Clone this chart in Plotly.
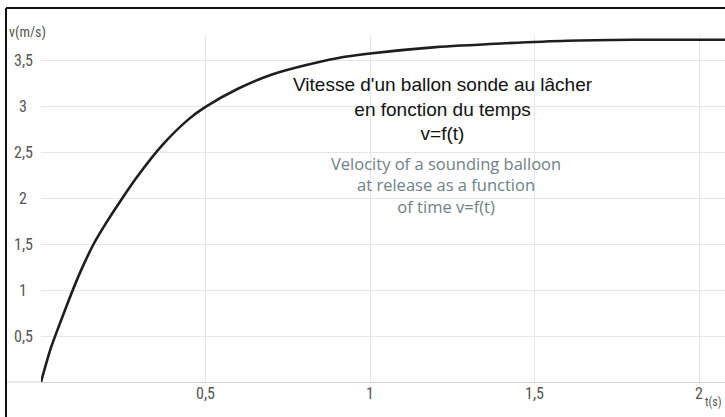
import plotly.graph_objects as go

# Data
t_s = [0, 0.03, 0.06, 0.09, 0.12, 0.16, 0.2, 0.24, 0.29, 0.37, 0.45, 0.5,
       0.6, 0.7, 0.8, 0.9, 1.0, 1.2, 1.4, 1.6, 1.8, 2.0, 2.08]
v_ms = [0, 0.37, 0.66, 0.94, 1.2, 1.5, 1.74, 1.96, 2.22, 2.58, 2.86, 2.99,
        3.19, 3.34, 3.44, 3.52, 3.57, 3.64, 3.68, 3.71, 3.72, 3.72, 3.72]

x_tickvals = [0, 0.5, 1, 1.5, 2]
x_ticktext = ["", "0,5", "1", "1,5", "2"]
y_tickvals = [0.5, 1, 1.5, 2, 2.5, 3, 3.5]
y_ticktext = ["0,5", "1", "1,5", "2", "2,5", "3", "3,5"]

title_fr = "Vitesse d'un ballon sonde au lâcher<br>en fonction du temps<br>v=f(t)"
title_en = "Velocity of a sounding balloon<br>at release as a function<br>of time v=f(t)"

W, H = 725, 417
ML, MR, MT, MB = 41, 0, 35, 35
PW, PH = W - ML - MR, H - MT - MB
XMAX = PW / 329.0
YMAX = PH / 92.0

def px_x(p):
    return (p - ML) / PW

def px_y(p):
    return (H - MB - p) / PH

cond_font = "Liberation Sans Narrow, Roboto Condensed, DejaVu Sans Condensed, sans-serif"

fig = go.Figure()
fig.add_trace(go.Scatter(x=t_s, y=v_ms, mode="lines",
                         line=dict(color="#1e1e1e", width=2.6, shape="spline", smoothing=0.7),
                         hoverinfo="skip", cliponaxis=False))

fig.update_layout(
    width=W, height=H,
    margin=dict(l=ML, r=MR, t=MT, b=MB),
    paper_bgcolor="white", plot_bgcolor="white",
    showlegend=False,
    xaxis=dict(range=[0, XMAX], tickvals=x_tickvals, ticktext=x_ticktext,
               showgrid=True, gridcolor="#e6e6e6", gridwidth=1,
               zeroline=False, showline=False, ticks="",
               tickfont=dict(family=cond_font, size=16, color="#555555")),
    yaxis=dict(range=[0, YMAX], tickvals=y_tickvals, showticklabels=False,
               showgrid=True, gridcolor="#e6e6e6", gridwidth=1,
               zeroline=True, zerolinecolor="#d4d4d4", zerolinewidth=1.2,
               showline=False, ticks=""),
)

annotations = []
for val, txt in zip(y_tickvals, y_ticktext):
    annotations.append(dict(x=px_x(23), y=val, xref="paper", yref="y", text=txt,
                            showarrow=False, xanchor="center", yanchor="middle",
                            font=dict(family=cond_font, size=16, color="#555555")))
annotations.append(dict(x=px_x(7), y=px_y(32), xref="paper", yref="paper", text="v(m/s)",
                        showarrow=False, xanchor="left", yanchor="middle",
                        font=dict(family=cond_font, size=14, color="#555555")))
annotations.append(dict(x=px_x(724), y=px_y(402), xref="paper", yref="paper", text="t(s)",
                        showarrow=False, xanchor="right", yanchor="middle",
                        font=dict(family=cond_font, size=12, color="#555555")))
annotations.append(dict(x=px_x(443), y=px_y(109), xref="paper", yref="paper", text=title_fr,
                        showarrow=False, xanchor="center", yanchor="middle", align="center",
                        font=dict(family="Liberation Sans Narrow, sans-serif", size=19, color="#111111")))
annotations.append(dict(x=px_x(446), y=px_y(185), xref="paper", yref="paper", text=title_en,
                        showarrow=False, xanchor="center", yanchor="middle", align="center",
                        font=dict(family="Open Sans, sans-serif", size=16.5, color="#6f7f88")))
fig.update_layout(annotations=annotations)

shapes = [
    dict(type="line", xref="paper", yref="paper", x0=px_x(6), x1=0, y0=0, y1=0,
         line=dict(color="#d4d4d4", width=1.2)),
    dict(type="line", xref="paper", yref="paper", x0=px_x(6), x1=px_x(6), y0=px_y(8), y1=px_y(H + 2),
         line=dict(color="#111111", width=2)),
    dict(type="line", xref="paper", yref="paper", x0=px_x(6), x1=px_x(W + 2), y0=px_y(8), y1=px_y(8),
         line=dict(color="#111111", width=2)),
]
fig.update_layout(shapes=shapes)

fig.write_html("out.html", config={"displayModeBar": False},
               post_script="document.body.style.margin='0px';document.body.style.overflow='hidden';")
